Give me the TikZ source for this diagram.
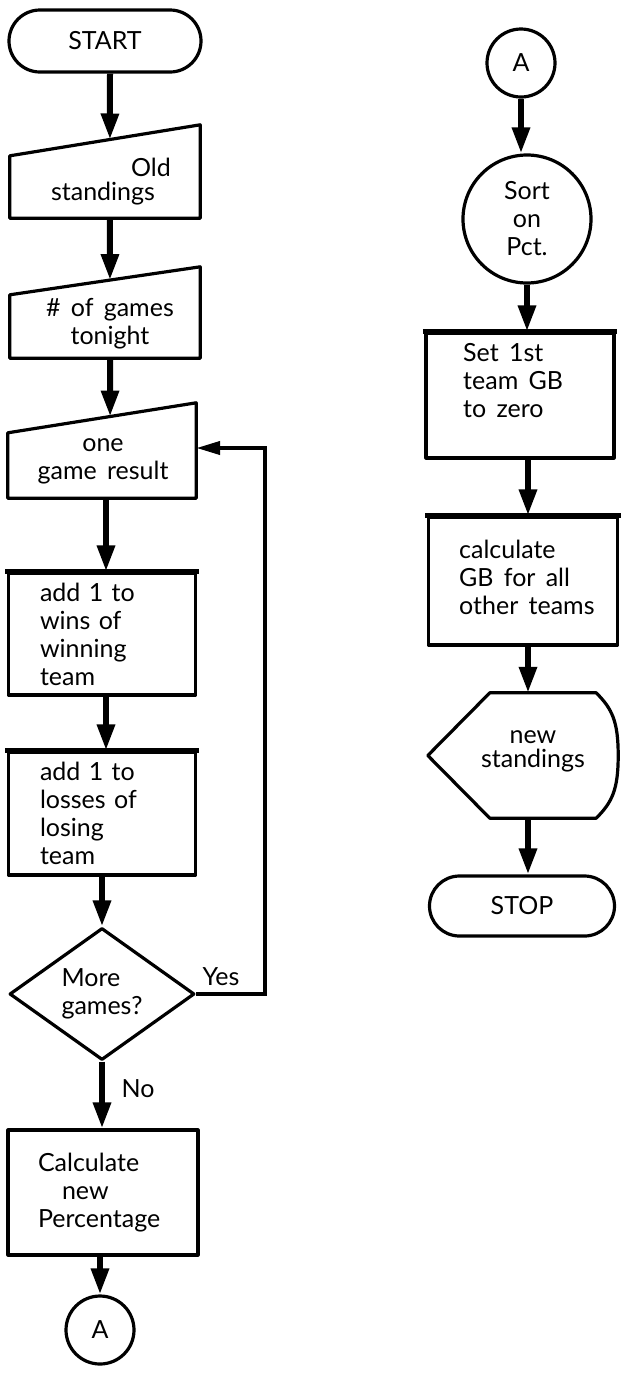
\documentclass[tikz,border=0pt]{standalone}
\usepackage{fontspec}
\setmainfont{Lato}[WordSpace=1.6]
\usetikzlibrary{arrows.meta,calc,shapes.geometric}
\begin{document}
\begin{tikzpicture}[x=1pt,y=-1pt,
  every node/.style={inner sep=0pt, font=\fontsize{25}{28}\selectfont},
  outl/.style={line width=3.2pt, line join=round},
  heavy/.style={line width=5pt},
  flow/.style={line width=6pt, -{Triangle[length=26pt,width=17pt]}},
  back/.style={line width=4pt, line join=miter, -{Triangle[length=24pt,width=13pt]}},
  blank/.style={rectangle, minimum width=#1},
  term/.style={draw, outl, rectangle, rounded corners=#1}
]
\useasboundingbox (0,0) rectangle (622,1377);

% axes for the connectors
\coordinate (axA) at (110,0);
\coordinate (axB) at (106,0);
\coordinate (axR) at (528,0);

% ---------------- left column ----------------
\node[term=31pt, minimum width=192pt, minimum height=62pt] (start) at (105,41) {START};

\node[blank=190pt, minimum height=93pt] (old) at (105,171.5) {};
\coordinate (oldtl) at ($(old.north west)+(0,31)$);
\draw[outl] (old.south west) -- (old.south east) -- (old.north east) -- (oldtl) -- cycle;
\node[align=center] (oldt) at (103,182) {\hspace*{96pt}Old\\[-4pt]standings};

\node[blank=190pt, minimum height=91pt] (games) at (105,312.5) {};
\coordinate (gamestl) at ($(games.north west)+(0,28)$);
\draw[outl] (games.south west) -- (games.south east) -- (games.north east) -- (gamestl) -- cycle;
\node[align=center] (gamest) at (110,324) {\# of games\\tonight};

\node[blank=188pt, minimum height=95pt] (result) at (102,450.5) {};
\coordinate (resulttl) at ($(result.north west)+(0,30)$);
\draw[outl] (result.south west) -- (result.south east) -- (result.north east) -- (resulttl) -- cycle;
\node[align=center] (resultt) at (103,461) {one\\game result};

\node[draw, outl, minimum width=187pt, minimum height=122pt, text width=124pt, align=left] (wins) at (102,634) {add 1 to\\wins of\\winning\\team};
\draw[heavy] ($(wins.north west)+(-1.5,0)$) -- ($(wins.north east)+(1.5,0)$);

\node[draw, outl, minimum width=187pt, minimum height=123pt, text width=124pt, align=left] (losses) at (102,813.5) {add 1 to\\losses of\\losing\\team};
\draw[heavy] ($(losses.north west)+(-1.5,0)$) -- ($(losses.north east)+(1.5,0)$);

\node[draw, outl, diamond, minimum width=185pt, minimum height=132pt, align=left] (dec) at (102,994) {More\\games?};

\node[draw, outl, minimum width=190pt, minimum height=125pt, text width=130pt, align=left] (calc) at (103,1192.5) {Calculate\\\hspace*{24pt}new\\Percentage};

\node[draw, outl, circle, minimum size=68pt] (ca) at (100,1330) {A};

\node (yes) at (221,977) {Yes};
\node (no) at (138,1089) {No};

% ---------------- right column ----------------
\node[draw, outl, circle, minimum size=68pt] (cb) at (521,63) {A};

\node[draw, outl, circle, minimum size=128pt, align=center] (sort) at (527,219) {Sort\\on\\Pct.};

\node[draw, outl, minimum width=188pt, minimum height=125pt] (set) at (520,395.5) {};
\draw[heavy] ($(set.north west)+(-1.5,0)$) -- ($(set.north east)+(1.5,0)$);
\node[align=left, anchor=west] (sett) at (463,381) {Set 1st\\team GB\\to zero};

\node[draw, outl, minimum width=189pt, minimum height=128pt] (gb) at (523,581) {};
\draw[heavy] ($(gb.north west)+(-1.5,0)$) -- ($(gb.north east)+(1.5,0)$);
\node[align=left, anchor=west] (gbt) at (459,577) {calculate\\GB for all\\other teams};

\node[blank=190pt, minimum height=125pt] (disp) at (523,755.5) {};
\draw[outl] ($(disp.north west)+(62,0)$) -- ($(disp.north east)+(-22,0)$)
  .. controls ($(disp.north east)+(-6,16)$) and ($(disp.east)+(0,-34)$) .. (disp.east)
  .. controls ($(disp.east)+(0,34)$) and ($(disp.south east)+(-6,-16)$) .. ($(disp.south east)+(-22,0)$)
  -- ($(disp.south west)+(62,0)$) -- (disp.west) -- cycle;
\node[align=center] (dispt) at (533,751) {new\\[-4pt]standings};

\node[term=30pt, minimum width=185pt, minimum height=60pt] (stop) at (522,906) {STOP};

% ---------------- connectors ----------------
\draw[flow] (start.south -| axA) -- ($(oldtl)!0.526!(old.north east)$);
\draw[flow] (old.south -| axA) -- ($(gamestl)!0.526!(games.north east)$);
\draw[flow] (games.south -| axA) -- ($(resulttl)!0.543!(result.north east)$);
\draw[flow] (result.south -| axB) -- (wins.north -| axB);
\draw[flow] (wins.south -| axB) -- (losses.north -| axB);
\draw[flow] (losses.south -| dec.north) -- (dec.north);
\draw[flow] (dec.south) -- (calc.north -| dec.south);
\draw[flow] (calc.south -| ca.north) -- (ca.north);

\coordinate (yt) at (265,448);
\draw[back] (dec.east) -| (yt) -- (result.east |- yt);

\draw[flow] (cb.south) -- (cb.south |- sort.north);
\draw[flow] (sort.south) -- (sort.south |- set.north);
\draw[flow] (set.south -| axR) -- (gb.north -| axR);
\draw[flow] (gb.south -| axR) -- (disp.north -| axR);
\draw[flow] (disp.south -| axR) -- (stop.north -| axR);
\end{tikzpicture}
\end{document}
